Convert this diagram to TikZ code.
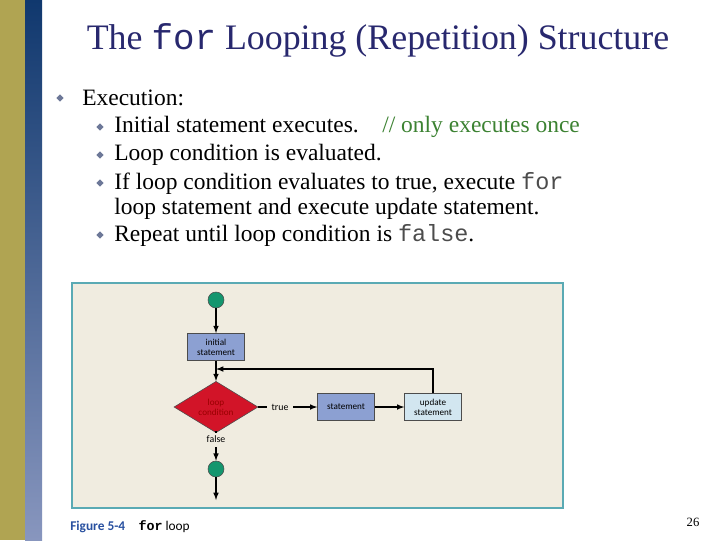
\documentclass[tikz,border=0pt]{standalone}
\usepackage{fontspec}
\setmainfont{Liberation Serif}
\setmonofont{Liberation Mono}
\newfontfamily\figfont{Carlito}
\usetikzlibrary{shapes.geometric,arrows,positioning}
\definecolor{gold}{RGB}{176,164,82}
\definecolor{navy}{RGB}{16,56,110}
\definecolor{paleblue}{RGB}{136,150,190}
\definecolor{titleblue}{RGB}{40,40,110}
\definecolor{okgreen}{RGB}{60,130,50}
\definecolor{beige}{RGB}{240,236,224}
\definecolor{teal}{RGB}{90,170,180}
\definecolor{boxblue}{RGB}{140,160,210}
\definecolor{boxlight}{RGB}{210,230,240}
\definecolor{endgreen}{RGB}{20,150,110}
\definecolor{condred}{RGB}{210,20,40}
\definecolor{capblue}{RGB}{40,80,160}
\tikzset{
  bul/.style={diamond,fill=paleblue!80!black,inner sep=1.3pt},
  txt/.style={anchor=west,inner sep=0pt,font=\fontsize{16.7}{19}\selectfont},
  flowbox/.style={draw=black!70,fill=boxblue,minimum width=1.42cm,minimum height=0.68cm,align=center,inner sep=1pt,font=\figfont\fontsize{6.5}{7}\selectfont},
  endpt/.style={circle,draw=black!70,fill=endgreen,minimum size=0.4cm,inner sep=0pt},
  flow/.style={-latex,thick}
}
\begin{document}
\begin{tikzpicture}[x=0.025cm,y=-0.025cm]
	\useasboundingbox (0,0) rectangle (720,540);
	% side strips
	\fill[gold] (0,0) rectangle (25,540);
	\shade[top color=navy,bottom color=paleblue] (25,0) rectangle (42,540);
	%% title and bullets
	\node[font=\fontsize{25.5}{28}\selectfont,text=titleblue] (title) at (378,40) {The \texttt{for} Looping (Repetition) Structure};
	\node[bul] at (60,98) {};
	\node[txt] (exec) at (82,98) {Execution:};
	\node[bul] at (100,127) {};
	\node[txt] (init) at (114,127) {Initial statement executes.\quad\textcolor{okgreen}{// only executes once}};
	\node[bul] at (100,155) {};
	\node[txt] (eval) at (114,155) {Loop condition is evaluated.};
	\node[bul] at (100,183) {};
	\node[txt] (iftrue) at (114,183) {If loop condition evaluates to true, execute \textcolor{black!70}{\texttt{for}}};
	\node[txt] (iftrue2) at (114,209) {loop statement and execute update statement.};
	\node[bul] at (100,235) {};
	\node[txt] (repeat) at (114,235) {Repeat until loop condition is \textcolor{black!70}{\texttt{false}}.};
	%% the figure
	\draw[teal,thick,fill=beige] (72,283) rectangle (563,508);
	\node[endpt] (start) at (216,300) {};
	\node[flowbox] (initial) at (216,347) {initial\\statement};
	\node[diamond,draw=black!70,fill=condred,minimum width=2.1cm,minimum height=0.95cm,inner sep=0pt,align=center,font=\figfont\fontsize{6.5}{7}\selectfont,text=red!60!black] (cond) at (216,407) {loop\\condition};
	\node[font=\figfont\fontsize{7}{8}\selectfont] (true) at (280,407) {true};
	\node[flowbox] (stmt) at (346,407) {statement};
	\node[flowbox,fill=boxlight] (update) at (433,407) {update\\statement};
	\node[font=\figfont\fontsize{7}{8}\selectfont] (false) at (216,439) {false};
	\node[endpt] (stop) at (216,469) {};
	\coordinate (back) at (216,369);
	\coordinate (out) at (216,500);
	\draw[flow] (start) -- (initial);
	\draw[flow] (initial) -- (cond);
	\draw[thick] (cond) -- (true);
	\draw[flow] (true) -- (stmt);
	\draw[flow] (stmt) -- (update);
	\draw[flow] (update.north) |- (back);
	\draw[thick] (cond) -- (false);
	\draw[flow] (false) -- (stop);
	\draw[flow] (stop) -- (out);
	\node[anchor=west,inner sep=0pt,font=\figfont\fontsize{9.5}{11}\selectfont] (caption) at (70,527) {\textcolor{capblue}{\textbf{Figure 5-4}}\quad{\ttfamily\bfseries for} loop};
	\node[font=\fontsize{9}{10}\selectfont] (page) at (693,522) {26};
\end{tikzpicture}
\end{document}
